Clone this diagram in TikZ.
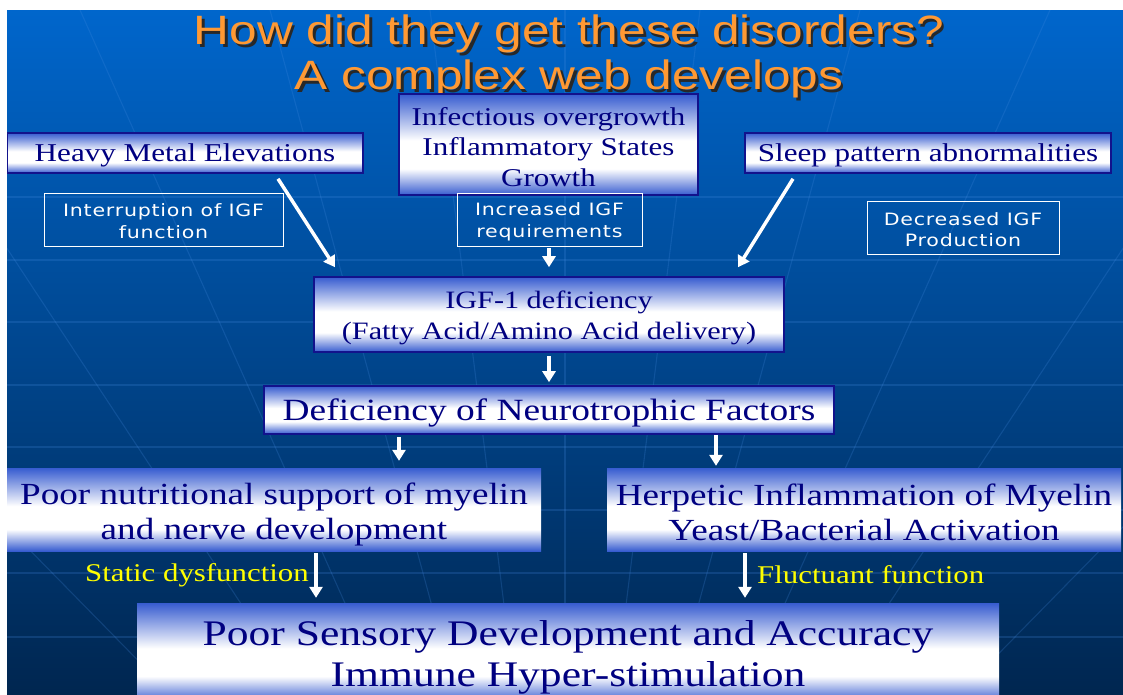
\documentclass[tikz,border=0pt]{standalone}
\usepackage{fontspec}
\usetikzlibrary{arrows.meta}
\newfontfamily\boxfont{Liberation Serif}[FakeStretch=1.21]
\newfontfamily\ttlfont{Liberation Sans}[FakeStretch=1.21]
\newfontfamily\smfont{DejaVu Sans}[FakeStretch=1.21,LetterSpace=4.5]
\definecolor{slidetop}{RGB}{0,102,204}
\definecolor{slidemid}{RGB}{0,78,156}
\definecolor{slidebot}{RGB}{0,38,80}
\definecolor{boxblue}{RGB}{55,92,208}
\definecolor{navytext}{RGB}{0,0,128}
\definecolor{navyline}{RGB}{18,18,140}
\definecolor{titleorange}{RGB}{255,153,51}
\definecolor{titleshadow}{RGB}{40,40,40}
\definecolor{labelyellow}{RGB}{255,255,0}
\definecolor{gridblue}{RGB}{70,140,225}
\pgfdeclareverticalshading{boxshade}{100bp}{color(0bp)=(boxblue); color(25bp)=(boxblue); color(38bp)=(white); color(52bp)=(white); color(75bp)=(boxblue); color(100bp)=(boxblue)}
\newcommand\shadowline[1]{\makebox[0pt][l]{\hspace{2.5pt}\raisebox{-2.5pt}{\textcolor{titleshadow}{#1}}}\textcolor{titleorange}{#1}}
\begin{document}
\begin{tikzpicture}[x=1pt,y=-1pt,
  mainbox/.style={draw=navyline, line width=1.6pt, shade, shading=boxshade},
  lowbox/.style={shade, shading=boxshade},
  txt/.style={text=navytext, align=center, inner sep=0pt},
  igfnote/.style={draw=white, line width=0.8pt},
  igftxt/.style={text=white, align=center, inner sep=0pt, font=\smfont\fontsize{17}{21.5}\selectfont},
  arr/.style={draw=white, line width=3.5pt, -{Triangle[width=13pt,length=11pt]}},
  lbl/.style={text=labelyellow, font=\boxfont\fontsize{25.5}{30}\selectfont, inner sep=0pt},
  gridline/.style={draw=gridblue, line width=1.1pt, opacity=0.22},
  ttl/.style={font=\ttlfont\fontsize{41}{45}\selectfont, align=center, inner sep=0pt}]
\useasboundingbox (0,0) rectangle (1123,694);
\fill[white] (0,0) rectangle (1123,694);
\begin{scope}
\clip (7,10) rectangle (1123,694);
\shade[top color=slidetop, middle color=slidemid, bottom color=slidebot] (7,10) rectangle (1123,694);
% faint background grid
\foreach \yy in {197,260,322,385,447,510,573,637}
  \draw[gridline] (7,\yy) -- (1123,\yy);
\foreach \xt in {-500,-150,80,270,430,565,700,860,1050,1280,1630}
  \draw[gridline] (\xt,10) -- ({565+(\xt-565)*0.37},694);
% title
\node[ttl] (title) at (569,58) {\shadowline{How did they get these disorders?}\\\shadowline{A complex web develops}};
% boxes
\node[mainbox, minimum width=299pt, minimum height=101pt] (infect) at (548.5,144.5) {};
\node[mainbox, minimum width=356pt, minimum height=40pt] (heavy) at (185,153) {};
\node[mainbox, minimum width=366pt, minimum height=40pt] (sleep) at (928,153) {};
\node[igfnote, minimum width=239pt, minimum height=53pt] (interr) at (163.5,219.5) {};
\node[igfnote, minimum width=185pt, minimum height=53pt] (incr) at (549.5,219.5) {};
\node[igfnote, minimum width=192pt, minimum height=53pt] (decr) at (963,227.5) {};
\node[mainbox, minimum width=470pt, minimum height=75pt] (igf) at (549,314.5) {};
\node[mainbox, minimum width=570pt, minimum height=48pt] (defic) at (549,410) {};
\node[lowbox, minimum width=534pt, minimum height=83pt] (poor) at (274,509.5) {};
\node[lowbox, minimum width=514pt, minimum height=83pt] (herp) at (864,509.5) {};
\node[lowbox, minimum width=862pt, minimum height=99pt] (sens) at (568,652.5) {};
% box texts
\node[txt, font=\boxfont\fontsize{25.6}{30.5}\selectfont] (infectT) at ([yshift=-2.5pt]infect.center) {Infectious overgrowth\\Inflammatory States\\Growth};
\node[txt, font=\boxfont\fontsize{25.7}{30}\selectfont] (heavyT) at ([yshift=-2pt]heavy.center) {Heavy Metal Elevations};
\node[txt, font=\boxfont\fontsize{25.7}{30}\selectfont] (sleepT) at ([yshift=-2pt]sleep.center) {Sleep pattern abnormalities};
\node[igftxt] (interrT) at ([yshift=-1.5pt]interr.center) {Interruption of IGF\\function};
\node[igftxt] (incrT) at ([yshift=-2.5pt]incr.center) {Increased IGF\\requirements};
\node[igftxt] (decrT) at ([yshift=-2pt]decr.center) {Decreased IGF\\Production};
\node[txt, font=\boxfont\fontsize{25}{31}\selectfont] (igfT) at ([yshift=-3.5pt]igf.center) {IGF-1 deficiency\\(Fatty Acid/Amino Acid delivery)};
\node[txt, font=\boxfont\fontsize{30.9}{35}\selectfont] (deficT) at ([yshift=-3pt]defic.center) {Deficiency of Neurotrophic Factors};
\node[txt, font=\boxfont\fontsize{30.7}{35}\selectfont] (poorT) at ([yshift=-5pt]poor.center) {Poor nutritional support of myelin\\and nerve development};
\node[txt, font=\boxfont\fontsize{30.7}{35}\selectfont] (herpT) at ([yshift=-3pt]herp.center) {Herpetic Inflammation of Myelin\\Yeast/Bacterial Activation};
\node[txt, font=\boxfont\fontsize{36}{41}\selectfont] (sensT) at ([yshift=-4.5pt]sens.center) {Poor Sensory Development and Accuracy\\Immune Hyper-stimulation};
% labels
\node[lbl, anchor=east] (stat) at (309,575) {Static dysfunction};
\node[lbl, anchor=west] (fluc) at (757,575) {Fluctuant function};
% arrows
\draw[arr] ([shift={(93,5)}]heavy.south) -- ([shift={(-214,-9)}]igf.north);
\draw[arr] ([shift={(-0.5,2)}]incr.south) -- ([shift={(0,-9)}]igf.north);
\draw[arr] ([shift={(-135,5)}]sleep.south) -- ([shift={(189,-9)}]igf.north);
\draw[arr] ([shift={(0,3)}]igf.south) -- ([shift={(0,-3)}]defic.north);
\draw[arr] ([shift={(-150,2)}]defic.south) -- ([shift={(125,-7)}]poor.north);
\draw[arr] ([shift={(167,0)}]defic.south) -- ([shift={(-148,-2)}]herp.north);
\draw[arr] ([shift={(42,2)}]poor.south) -- ([shift={(-252,-5)}]sens.north);
\draw[arr] ([shift={(-119,2)}]herp.south) -- ([shift={(177,-5)}]sens.north);
\end{scope}
\end{tikzpicture}
\end{document}
